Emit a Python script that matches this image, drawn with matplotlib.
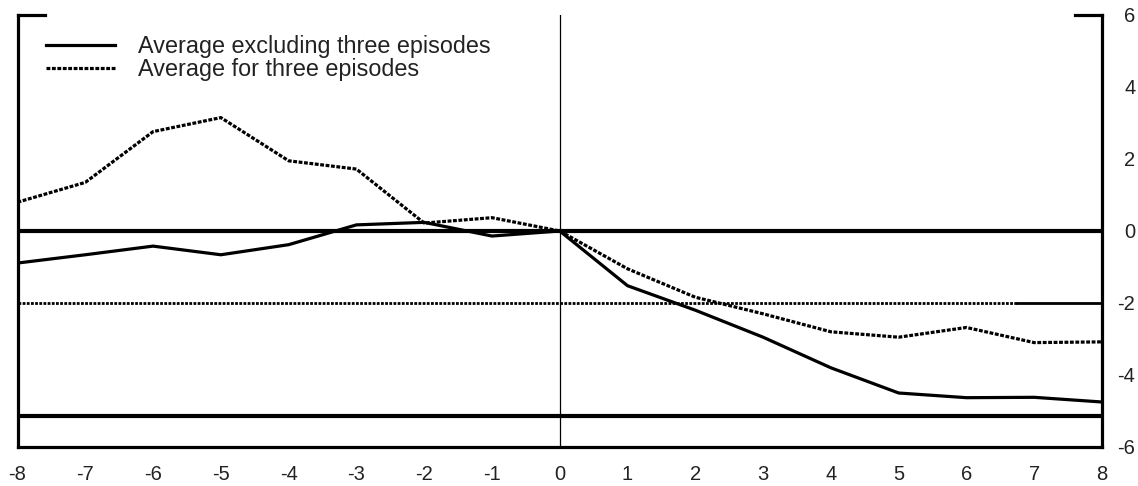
import matplotlib
matplotlib.use("Agg")
import matplotlib.pyplot as plt
import numpy as np

# Data
quarters = [-8, -7, -6, -5, -4, -3, -2, -1, 0, 1, 2, 3, 4, 5, 6, 7, 8]
avg_excl = [-0.89, -0.66, -0.42, -0.66, -0.38, 0.17, 0.24, -0.14, 0.0,
            -1.52, -2.2, -2.95, -3.8, -4.5, -4.63, -4.62, -4.75]
avg_three = [0.80, 1.35, 2.76, 3.15, 1.95, 1.72, 0.22, 0.37, 0.0,
             -1.05, -1.84, -2.3, -2.8, -2.95, -2.68, -3.1, -3.08]
ref_levels = [0.0, -2.0, -5.15]
xticks = list(range(-8, 9))
yticks = [-6, -4, -2, 0, 2, 4, 6]
label_excl = "Average excluding three episodes"
label_three = "Average for three episodes"

plt.rcParams['font.family'] = ['Liberation Sans', 'DejaVu Sans']

fig = plt.figure(figsize=(11.38, 4.86), dpi=100)
ax = fig.add_axes([17.5 / 1138, 1 - 447 / 486, (1102 - 17.5) / 1138, (447 - 15) / 486])

ax.set_xlim(-8, 8)
ax.set_ylim(-6, 6)

# reference lines
ax.axhline(ref_levels[0], color='black', lw=3.0, zorder=2)
ax.plot([-8, 6.75], [ref_levels[1], ref_levels[1]], color='black', lw=2.0,
        linestyle=(0, (1.0, 0.5)), zorder=2)
ax.plot([6.75, 8], [ref_levels[1], ref_levels[1]], color='black', lw=2.0, zorder=2)
ax.axhline(ref_levels[2], color='black', lw=3.0, zorder=2)
ax.axvline(0, color='black', lw=0.9, zorder=2)

# series
ax.plot(quarters, avg_excl, color='black', lw=2.3, label=label_excl, zorder=3)
ax.plot(quarters, avg_three, color='black', lw=2.3, linestyle=(0, (1.2, 0.5)),
        label=label_three, zorder=3)

# spines
for s in ['left', 'right', 'bottom']:
    ax.spines[s].set_linewidth(2.3)
ax.spines['top'].set_visible(False)
# corner brackets on top
ax.plot([0, 0.025], [1, 1], transform=ax.transAxes, color='black', lw=2.3,
        clip_on=False, solid_capstyle='projecting')
ax.plot([0.975, 1], [1, 1], transform=ax.transAxes, color='black', lw=2.3,
        clip_on=False, solid_capstyle='projecting')

ax.set_xticks(xticks)
ax.set_xticklabels([str(v) for v in xticks])
ax.set_yticks(yticks)
ax.set_yticklabels([str(v) for v in yticks])
ax.yaxis.tick_right()
ax.tick_params(axis='both', length=0, labelsize=14.5, colors='#222222')
ax.tick_params(axis='x', pad=13)
ax.tick_params(axis='y', pad=24)
for lab in ax.get_yticklabels():
    lab.set_horizontalalignment('right')

leg = ax.legend(loc='upper left', bbox_to_anchor=(0.026, 0.953), frameon=False,
                fontsize=16.8, handlelength=2.95, handletextpad=1.0,
                labelspacing=-0.02, borderpad=0, borderaxespad=0)
for t in leg.get_texts():
    t.set_color('#222222')

fig.savefig("out.png", dpi=100)
